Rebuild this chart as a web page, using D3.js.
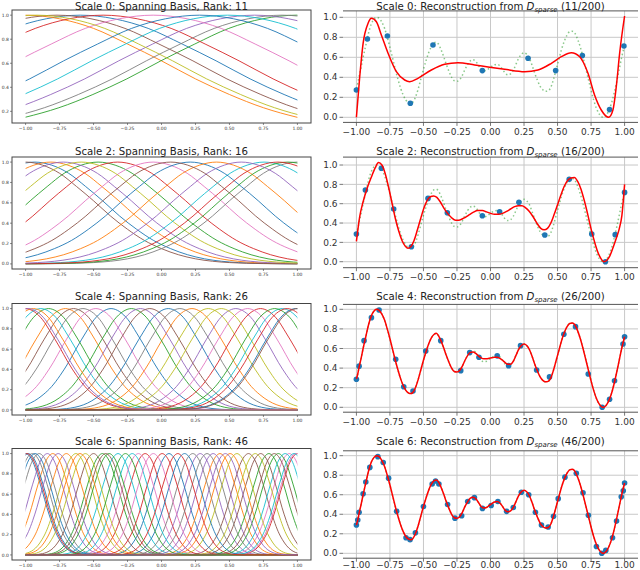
<!DOCTYPE html>
<html>
<head>
<meta charset="utf-8">
<style>
  body { margin: 0; background: #fff; }
  text { font-family: "DejaVu Sans", sans-serif; }
</style>
</head>
<body>
<svg width="640" height="570"></svg>
<script src="https://d3js.org/d3.v7.min.js"></script>
<script>

var trueX = [-1.00,-0.99,-0.98,-0.965,-0.95,-0.93,-0.91,-0.89,-0.87,-0.85,-0.83,-0.81,-0.79,-0.77,-0.75,-0.73,-0.71,-0.69,-0.67,-0.65,-0.63,-0.61,-0.595,-0.58,-0.56,-0.54,-0.52,-0.50,-0.48,-0.46,-0.44,-0.42,-0.405,-0.39,-0.37,-0.35,-0.33,-0.31,-0.29,-0.27,-0.25,-0.23,-0.21,-0.19,-0.17,-0.15,-0.13,-0.11,-0.09,-0.07,-0.05,-0.03,-0.01,0.01,0.03,0.05,0.07,0.09,0.11,0.13,0.15,0.17,0.19,0.21,0.23,0.25,0.27,0.29,0.31,0.33,0.35,0.37,0.39,0.41,0.43,0.45,0.47,0.49,0.51,0.53,0.55,0.57,0.59,0.61,0.63,0.65,0.67,0.69,0.71,0.73,0.75,0.77,0.79,0.81,0.83,0.845,0.86,0.88,0.90,0.92,0.94,0.96,0.98,1.00];
var trueY = [0.29,0.34,0.41,0.50,0.60,0.72,0.84,0.93,0.98,1.00,0.99,0.95,0.89,0.80,0.70,0.59,0.48,0.38,0.29,0.22,0.17,0.145,0.14,0.15,0.20,0.28,0.38,0.48,0.57,0.65,0.71,0.745,0.75,0.735,0.68,0.61,0.53,0.46,0.40,0.365,0.36,0.375,0.42,0.48,0.53,0.565,0.575,0.56,0.52,0.48,0.465,0.47,0.49,0.51,0.525,0.53,0.515,0.48,0.44,0.425,0.435,0.47,0.53,0.59,0.63,0.645,0.63,0.59,0.52,0.44,0.37,0.31,0.275,0.26,0.265,0.30,0.38,0.48,0.58,0.68,0.76,0.82,0.855,0.86,0.84,0.78,0.70,0.60,0.49,0.38,0.27,0.17,0.09,0.035,0.005,0.0,0.015,0.06,0.13,0.23,0.35,0.48,0.61,0.72];

// red reconstructions
var recon0X = [-1.0,-0.975,-0.95,-0.913,-0.888,-0.851,-0.814,-0.764,-0.702,-0.64,-0.603,-0.541,-0.441,-0.342,-0.243,-0.118,-0.006,0.105,0.255,0.354,0.454,0.528,0.603,0.665,0.727,0.776,0.826,0.881,0.913,0.938,0.963,1.0];
var recon0Y = [0.0,0.41,0.74,0.94,0.99,0.956,0.823,0.64,0.456,0.373,0.356,0.39,0.473,0.53,0.546,0.523,0.50,0.48,0.456,0.473,0.54,0.606,0.646,0.606,0.44,0.223,0.073,0.0,0.073,0.306,0.64,1.013];

var recon2X = [-1.0,-0.975,-0.95,-0.92,-0.89,-0.86,-0.835,-0.81,-0.785,-0.76,-0.735,-0.71,-0.685,-0.66,-0.635,-0.615,-0.595,-0.57,-0.545,-0.52,-0.495,-0.47,-0.445,-0.425,-0.40,-0.375,-0.35,-0.32,-0.29,-0.26,-0.235,-0.20,-0.165,-0.13,-0.095,-0.06,-0.03,0.0,0.03,0.06,0.09,0.12,0.15,0.18,0.21,0.235,0.26,0.29,0.32,0.35,0.375,0.40,0.425,0.45,0.475,0.50,0.525,0.55,0.575,0.60,0.625,0.65,0.675,0.70,0.725,0.75,0.775,0.80,0.825,0.845,0.865,0.89,0.915,0.94,0.96,0.98,1.0];
var recon2Y = [0.21,0.47,0.62,0.76,0.87,0.97,1.025,1.00,0.91,0.77,0.61,0.45,0.32,0.22,0.16,0.14,0.155,0.22,0.33,0.45,0.56,0.64,0.675,0.68,0.665,0.62,0.56,0.50,0.455,0.43,0.43,0.45,0.48,0.51,0.53,0.53,0.515,0.50,0.49,0.49,0.50,0.52,0.545,0.57,0.58,0.58,0.56,0.52,0.46,0.39,0.345,0.33,0.345,0.40,0.49,0.59,0.69,0.78,0.84,0.865,0.87,0.83,0.75,0.63,0.49,0.34,0.21,0.10,0.03,0.0,0.01,0.06,0.15,0.25,0.34,0.48,0.80];

var recon4X = trueX;
var recon4Y = [0.29,0.34,0.41,0.50,0.60,0.72,0.84,0.93,0.98,1.00,0.99,0.95,0.89,0.80,0.70,0.59,0.48,0.38,0.29,0.22,0.17,0.145,0.14,0.15,0.20,0.28,0.38,0.48,0.57,0.65,0.71,0.745,0.755,0.735,0.68,0.61,0.53,0.46,0.40,0.365,0.36,0.375,0.42,0.48,0.53,0.56,0.565,0.55,0.525,0.505,0.495,0.495,0.50,0.505,0.51,0.51,0.50,0.48,0.455,0.44,0.44,0.47,0.53,0.59,0.63,0.645,0.63,0.59,0.52,0.44,0.37,0.31,0.275,0.26,0.265,0.30,0.38,0.48,0.58,0.68,0.76,0.82,0.855,0.86,0.84,0.78,0.70,0.60,0.49,0.38,0.27,0.17,0.09,0.035,0.005,0.0,0.015,0.06,0.13,0.23,0.35,0.48,0.61,0.72];

// sampled points D_sparse (blue)
var sample0X = [-1.0,-0.918,-0.769,-0.598,-0.429,-0.061,0.280,0.486,0.685,0.888,0.995];
var sample0Y = [0.273,0.783,0.813,0.14,0.723,0.467,0.59,0.467,0.617,0.077,0.713];
var sample2X = [-1.0,-0.933,-0.814,-0.722,-0.590,-0.466,-0.322,-0.061,0.068,0.212,0.405,0.587,0.755,0.857,0.93,1.0];
var sample2Y = [0.286,0.741,0.966,0.545,0.155,0.655,0.507,0.476,0.517,0.614,0.276,0.852,0.286,0.0,0.28,0.717];
var sample4X = [-1.0,-0.98,-0.943,-0.888,-0.831,-0.707,-0.647,-0.578,-0.483,-0.371,-0.222,-0.155,-0.086,0.05,0.135,0.224,0.344,0.44,0.547,0.634,0.729,0.833,0.888,0.925,0.988,1.0];
var sample4Y = [0.286,0.42,0.68,0.915,0.993,0.49,0.21,0.167,0.575,0.68,0.374,0.558,0.51,0.525,0.425,0.629,0.38,0.31,0.745,0.823,0.34,0.0,0.082,0.27,0.646,0.72];
var sample6X = [-1.0,-0.99,-0.98,-0.95,-0.93,-0.90,-0.84,-0.80,-0.76,-0.70,-0.63,-0.60,-0.56,-0.50,-0.435,-0.41,-0.385,-0.32,-0.265,-0.215,-0.17,-0.12,-0.06,0.005,0.055,0.12,0.17,0.23,0.285,0.335,0.38,0.43,0.47,0.505,0.555,0.64,0.69,0.73,0.79,0.83,0.86,0.91,0.94,0.975,0.99,1.0];
var sample6Y = [0.29,0.34,0.42,0.61,0.73,0.88,0.99,0.93,0.77,0.43,0.16,0.14,0.21,0.48,0.71,0.74,0.71,0.50,0.36,0.385,0.53,0.57,0.46,0.49,0.53,0.43,0.47,0.625,0.60,0.42,0.29,0.27,0.38,0.56,0.78,0.82,0.62,0.39,0.07,0.0,0.03,0.16,0.33,0.58,0.64,0.72];

// basis centres, in plotting (colour) order
var basis0 = [-0.598,-1.0,0.995,-0.429,0.685,-0.769,-0.061,0.888,-0.918,0.486,0.280];
var basis2 = [-0.933,-0.814,-0.466,-0.322,-0.722,-1.0,-0.061,1.0,-0.590,0.755,0.212,0.405,0.93,0.857,0.587,0.068];
var basis4 = [-0.371,-0.707,-0.831,-1.0,0.547,-0.647,-0.483,-0.578,0.344,-0.888,0.05,0.224,-0.222,0.729,-0.155,-0.086,0.634,0.135,0.44,0.888,0.988,-0.943,0.833,0.925,-0.98,1.0];
var basis6 = [-1.0,-0.80,-0.435,-0.12,0.285,0.64,0.94,-0.95,-0.63,-0.32,0.055,0.43,0.79,1.0,-0.84,-0.50,-0.17,0.23,0.555,0.91,-0.98,-0.70,-0.385,0.005,0.38,0.73,0.99,-0.90,-0.56,-0.215,0.17,0.505,0.86,-0.99,-0.76,-0.41,-0.06,0.335,0.69,0.975,-0.93,-0.60,-0.265,0.12,0.47,0.83];

// shape of one basis bump (height at 0,1,2,... steps from its centre) and step per scale
var bumpShape = [1.00,0.97,0.89,0.76,0.62,0.47,0.34,0.23,0.15,0.09,0.05,0.026,0.013,0.006,0.003,0.001];
var bumpStep = [0.25, 0.125, 0.0625, 0.03125];

var scales = [0, 2, 4, 6];
var ranks = [11, 16, 26, 46];
var xTicks = [-1, -0.75, -0.5, -0.25, 0, 0.25, 0.5, 0.75, 1];

var tab10 = d3.schemeCategory10;
var svg = d3.select("svg");

// layout
var titleY = [9.5, 155, 299.8, 445];
var leftTop = [10, 157, 303.5, 448.5], leftBottom = [123, 269, 415, 560];
var rightTop = [10.9, 157.1, 304.4, 450.8], rightBottom = [122.4, 267.7, 412.2, 558.2];
var rightLabelOff = [12.3, 12.3, 12.3, 9.6];
var leftX = [12, 311], rightX = [343, 638];
var leftYDom = [[0.103, 1.043], [-0.05, 1.05], [-0.05, 1.05], [-0.05, 1.05]];
var leftYTicks = [[0.2,0.4,0.6,0.8,1.0],[0,0.2,0.4,0.6,0.8,1.0],[0,0.2,0.4,0.6,0.8,1.0],[0,0.2,0.4,0.6,0.8,1.0]];
var rightYDom = [[-0.051, 1.064], [-0.062, 1.082], [-0.05, 1.05], [-0.05, 1.05]];

var allBasis = [basis0, basis2, basis4, basis6];
var allSampleX = [sample0X, sample2X, sample4X, sample6X];
var allSampleY = [sample0Y, sample2Y, sample4Y, sample6Y];
var allReconX = [recon0X, recon2X, recon4X, trueX];
var allReconY = [recon0Y, recon2Y, recon4Y, trueY];

function fmtX(v) { return d3.format(".2f")(v).replace("-", "\u2212"); }
function fmtY(v) { return d3.format(".1f")(v).replace("-", "\u2212"); }

function drawLeft(i) {
  var top = leftTop[i], bottom = leftBottom[i];
  var x = d3.scaleLinear().domain([-1.1, 1.1]).range(leftX);
  var y = d3.scaleLinear().domain(leftYDom[i]).range([bottom, top]);
  var g = svg.append("g");

  g.append("clipPath").attr("id", "clipL" + i)
    .append("rect").attr("x", x(-1)).attr("y", top).attr("width", x(1) - x(-1)).attr("height", bottom - top);

  var line = d3.line().x(function(d) { return x(d[0]); }).y(function(d) { return y(d[1]); })
    .curve(d3.curveMonotoneX);

  var step = bumpStep[i];
  var lines = g.append("g").attr("clip-path", "url(#clipL" + i + ")");
  allBasis[i].forEach(function(c, k) {
    var pts = [];
    for (var j = bumpShape.length - 1; j > 0; j--) pts.push([c - j * step, bumpShape[j]]);
    pts.push([c, bumpShape[0]]);
    for (var j = 1; j < bumpShape.length; j++) pts.push([c + j * step, bumpShape[j]]);
    if (pts[0][0] > -1.05) pts.unshift([-1.05, 0]);
    if (pts[pts.length - 1][0] < 1.05) pts.push([1.05, 0]);
    lines.append("path").attr("d", line(pts))
      .attr("fill", "none").attr("stroke", tab10[k % 10]).attr("stroke-width", 0.9);
  });

  g.append("rect").attr("x", leftX[0]).attr("y", top).attr("width", leftX[1] - leftX[0]).attr("height", bottom - top)
    .attr("fill", "none").attr("stroke", "#444").attr("stroke-width", 1);

  xTicks.forEach(function(t) {
    g.append("line").attr("x1", x(t)).attr("x2", x(t)).attr("y1", bottom).attr("y2", bottom + 2)
      .attr("stroke", "#444").attr("stroke-width", 0.6);
    g.append("text").attr("x", x(t)).attr("y", bottom + 6.5).attr("text-anchor", "middle")
      .attr("font-size", 4.5).attr("fill", "#333").text(fmtX(t));
  });
  leftYTicks[i].forEach(function(t) {
    g.append("line").attr("x1", leftX[0] - 2).attr("x2", leftX[0]).attr("y1", y(t)).attr("y2", y(t))
      .attr("stroke", "#444").attr("stroke-width", 0.6);
    g.append("text").attr("x", leftX[0] - 3).attr("y", y(t)).attr("dy", "0.35em").attr("text-anchor", "end")
      .attr("font-size", 4.5).attr("fill", "#333").text(fmtY(t));
  });

  g.append("text").attr("x", (leftX[0] + leftX[1]) / 2).attr("y", titleY[i]).attr("text-anchor", "middle")
    .attr("font-size", 10.2).attr("fill", "#222")
    .text("Scale " + scales[i] + ": Spanning Basis, Rank: " + ranks[i]);
}

function drawRight(i) {
  var top = rightTop[i], bottom = rightBottom[i];
  var x = d3.scaleLinear().domain([-1.1, 1.1]).range(rightX);
  var y = d3.scaleLinear().domain(rightYDom[i]).range([bottom, top]);
  var g = svg.append("g");

  // grid
  xTicks.forEach(function(t) {
    g.append("line").attr("x1", x(t)).attr("x2", x(t)).attr("y1", top).attr("y2", bottom)
      .attr("stroke", "#c8c8c8").attr("stroke-width", 1);
  });
  var yTicks = [0, 0.2, 0.4, 0.6, 0.8, 1.0];
  yTicks.forEach(function(t) {
    g.append("line").attr("x1", rightX[0]).attr("x2", rightX[1]).attr("y1", y(t)).attr("y2", y(t))
      .attr("stroke", "#c8c8c8").attr("stroke-width", 1);
  });

  var line = d3.line().x(function(d) { return x(d[0]); }).y(function(d) { return y(d[1]); })
    .curve(d3.curveMonotoneX);

  var truePts = trueX.map(function(v, k) { return [v, trueY[k]]; });
  g.append("path").attr("d", line(truePts)).attr("fill", "none")
    .attr("stroke", "#2a9a2a").attr("stroke-opacity", 0.55).attr("stroke-width", 1.5)
    .attr("stroke-dasharray", "1.5,2.5");

  var sx = allSampleX[i], sy = allSampleY[i];
  g.selectAll("circle.s").data(sx).enter().append("circle")
    .attr("cx", function(d) { return x(d); })
    .attr("cy", function(d, k) { return y(sy[k]); })
    .attr("r", 2.8).attr("fill", "#1f77b4");

  var rx = allReconX[i], ry = allReconY[i];
  var reconPts = rx.map(function(v, k) { return [v, ry[k]]; });
  g.append("path").attr("d", line(reconPts)).attr("fill", "none")
    .attr("stroke", "#ff0000").attr("stroke-width", 1.5);

  // spines (top and bottom)
  g.append("line").attr("x1", rightX[0]).attr("x2", rightX[1]).attr("y1", top).attr("y2", top)
    .attr("stroke", "#555").attr("stroke-width", 1);
  g.append("line").attr("x1", rightX[0]).attr("x2", rightX[1]).attr("y1", bottom).attr("y2", bottom)
    .attr("stroke", "#555").attr("stroke-width", 1);

  xTicks.forEach(function(t) {
    g.append("line").attr("x1", x(t)).attr("x2", x(t)).attr("y1", bottom).attr("y2", bottom + 3.5)
      .attr("stroke", "#555").attr("stroke-width", 0.8);
    g.append("text").attr("x", x(t)).attr("y", bottom + rightLabelOff[i]).attr("text-anchor", "middle")
      .attr("font-size", 9).attr("fill", "#333").text(fmtX(t));
  });
  yTicks.forEach(function(t) {
    g.append("line").attr("x1", rightX[0] - 3.5).attr("x2", rightX[0]).attr("y1", y(t)).attr("y2", y(t))
      .attr("stroke", "#555").attr("stroke-width", 0.8);
    g.append("text").attr("x", rightX[0] - 5.5).attr("y", y(t)).attr("dy", "0.35em").attr("text-anchor", "end")
      .attr("font-size", 9).attr("fill", "#333").text(fmtY(t));
  });

  var title = g.append("text").attr("x", (rightX[0] + rightX[1]) / 2).attr("y", titleY[i])
    .attr("text-anchor", "middle").attr("font-size", 10.2).attr("fill", "#222");
  title.append("tspan").text("Scale " + scales[i] + ": Reconstruction from ");
  title.append("tspan").attr("font-style", "italic").text("D");
  title.append("tspan").attr("font-style", "italic").attr("font-size", 7).attr("dy", 2).text("sparse");
  title.append("tspan").attr("dy", -2).text(" (" + ranks[i] + "/200)");
}

for (var i = 0; i < 4; i++) { drawLeft(i); drawRight(i); }

</script>
</body>
</html>
